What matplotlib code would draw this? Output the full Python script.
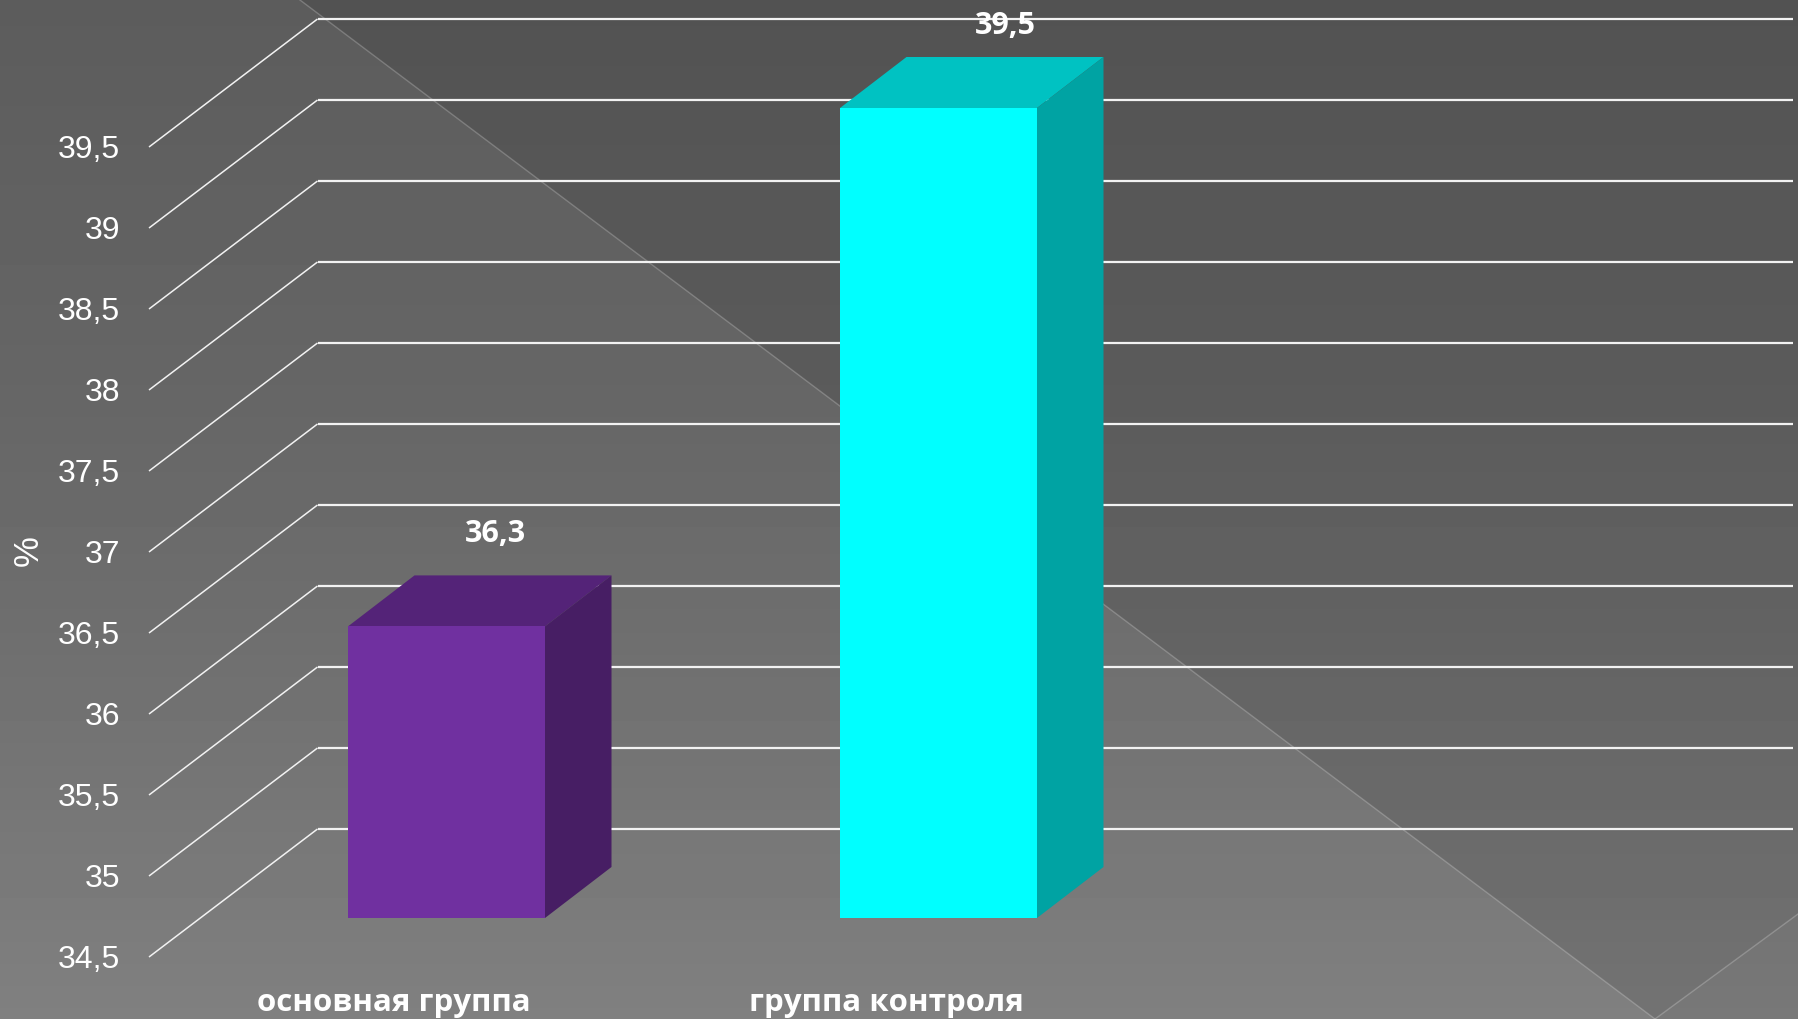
import matplotlib

matplotlib.use("Agg")

import matplotlib.pyplot as plt
import numpy as np
from matplotlib.patches import Polygon

# chart data
categories = ["основная группа", "группа контроля"]
values = [36.3, 39.5]
value_labels = ["36,3", "39,5"]
ticks = [34.5, 35, 35.5, 36, 36.5, 37, 37.5, 38, 38.5, 39, 39.5]
tick_labels = ["34,5", "35", "35,5", "36", "36,5", "37", "37,5", "38", "38,5", "39", "39,5"]

W, H = 1798, 1019
FONT = "Liberation Sans"
BOLD_FONT = "Open Sans"

# pixels per unit, bar plane geometry
X_UNIT = 492.0
Y_UNIT = 162.0
X0 = 446.5
Y0 = 918.0
BAR_WIDTH = 197 / X_UNIT
DEPTH_X = 66.5 / X_UNIT
DEPTH_Y = 51 / Y_UNIT
BACK_X = (317.5 - X0) / X_UNIT
FRONT_X = (149 - X0) / X_UNIT
RIGHT_X = (1793 - X0) / X_UNIT
BACK_DY = 89 / Y_UNIT
FRONT_DY = -39 / Y_UNIT

FACE = ["#7030A0", "#00FFFF"]
TOP = ["#542378", "#00C2C2"]
SIDE = ["#471E64", "#00A3A3"]

fig = plt.figure(figsize=(W / 100, H / 100), dpi=100)

# background: slide gradient and the darker diagonal panels
bg = fig.add_axes([0, 0, 1, 1], zorder=0)
bg.set_xlim(0, W)
bg.set_ylim(H, 0)
bg.axis("off")
rows = np.arange(H)
shade = np.interp(rows, [0, 400, 620, H], [0x5C, 0x66, 0x6E, 0x80]).reshape(-1, 1)
bg.imshow(shade, extent=[0, W, H, 0], aspect="auto", cmap="gray", vmin=0, vmax=255, zorder=0)
bg.add_patch(Polygon([(300, 0), (W, 0), (W, 914), (1655, 1019)], closed=True, facecolor="black", alpha=0.1, edgecolor="none", zorder=1))
bg.add_patch(Polygon([(1655, 1019), (W, 914), (W, H)], closed=True, facecolor="black", alpha=0.06, edgecolor="none", zorder=1))
bg.plot([300, 1655], [0, 1019], color="white", alpha=0.22, linewidth=1, zorder=2)
bg.plot([1655, W], [1019, 914], color="white", alpha=0.22, linewidth=1, zorder=2)

ax = fig.add_axes([0, 0, 1, 1], zorder=1)
ax.patch.set_alpha(0)
ax.set_xlim(-X0 / X_UNIT, (W - X0) / X_UNIT)
ax.set_ylim(ticks[0] - (H - Y0) / Y_UNIT, ticks[0] + Y0 / Y_UNIT)
ax.axis("off")

# wall and floor grid lines
for tick, label in zip(ticks, tick_labels):
    ax.plot([FRONT_X, BACK_X], [tick + FRONT_DY, tick + BACK_DY], color="#f2f2f2", linewidth=1.1, zorder=2, solid_capstyle="butt")
    ax.plot([BACK_X, RIGHT_X], [tick + BACK_DY, tick + BACK_DY], color="#f2f2f2", linewidth=1.6, zorder=2, solid_capstyle="butt")
    ax.text((120 - X0) / X_UNIT, tick + FRONT_DY + 1 / Y_UNIT, label, color="white", fontsize=23, family=FONT, ha="right", va="center_baseline", zorder=5)

# bars with their fake depth
positions = np.arange(len(categories))
ax.bar(positions, np.array(values) - ticks[0], BAR_WIDTH, bottom=ticks[0], color=FACE, zorder=4)
for pos, val, top, side in zip(positions, values, TOP, SIDE):
    left, right = pos - BAR_WIDTH / 2, pos + BAR_WIDTH / 2
    ax.add_patch(Polygon([(left, val), (right, val), (right + DEPTH_X, val + DEPTH_Y), (left + DEPTH_X, val + DEPTH_Y)], closed=True, facecolor=top, edgecolor="none", zorder=3))
    ax.add_patch(Polygon([(right, ticks[0]), (right + DEPTH_X, ticks[0] + DEPTH_Y), (right + DEPTH_X, val + DEPTH_Y), (right, val)], closed=True, facecolor=side, edgecolor="none", zorder=3))

# value labels and category labels
for pos, val, label in zip(positions, values, value_labels):
    ax.text(pos + (49 + 18 * pos) / X_UNIT, val + (96 - 10 * pos) / Y_UNIT, label, color="white", fontsize=22, family=BOLD_FONT, fontweight="bold", ha="center", va="center_baseline", zorder=6)
for pos, cat in zip(positions, categories):
    ax.text(pos - 52.5 / X_UNIT, ticks[0] - (1000 - Y0) / Y_UNIT, cat, color="white", fontsize=22.5, family=BOLD_FONT, fontweight="bold", ha="center", va="center_baseline", zorder=6)

ax.text((28 - X0) / X_UNIT, ticks[0] + (Y0 - 551) / Y_UNIT, "%", color="white", fontsize=25, family=FONT, rotation=90, ha="center", va="center", zorder=6)

fig.savefig("out.png", dpi=100)
